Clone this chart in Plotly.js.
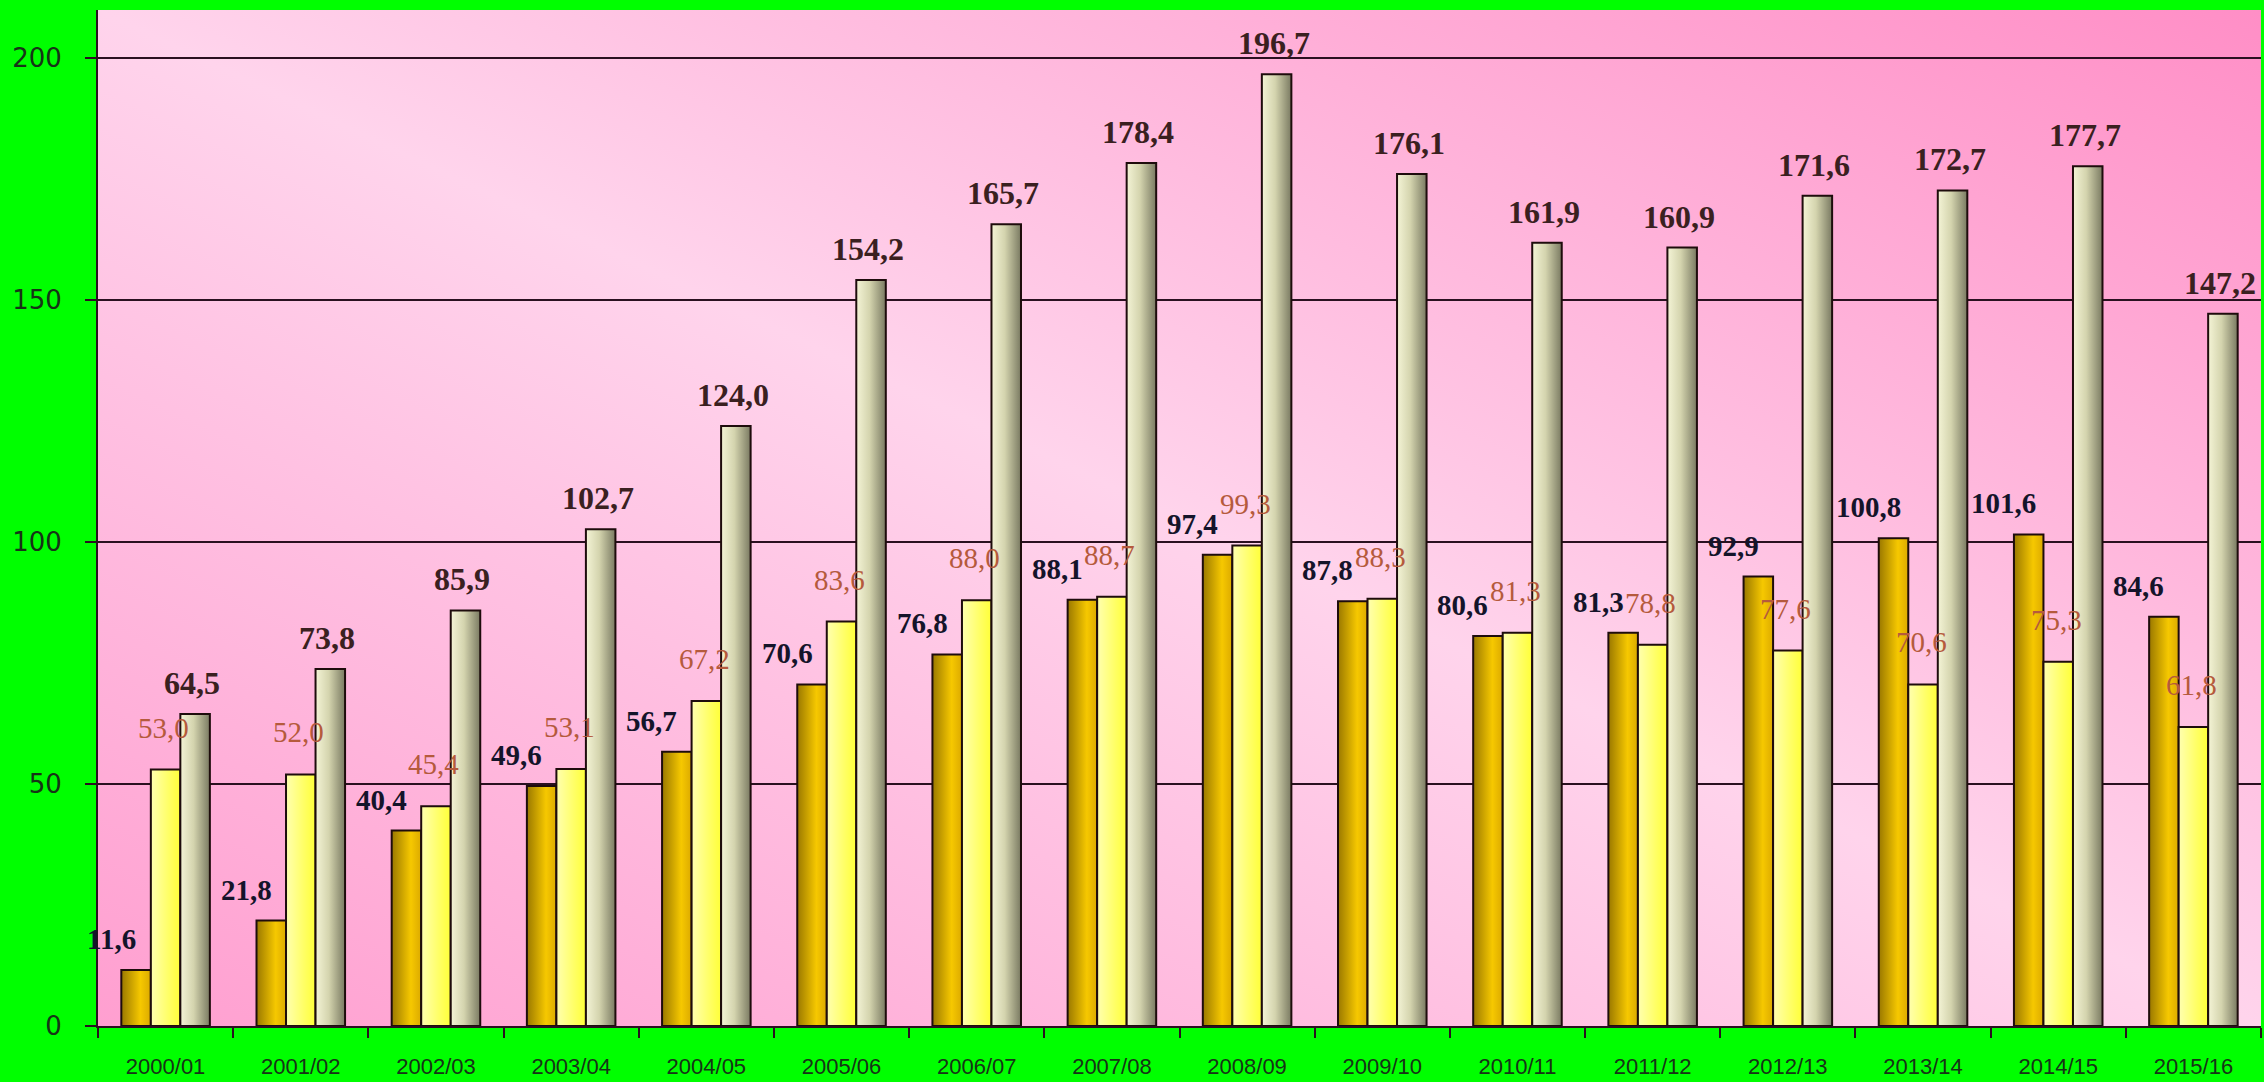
<!DOCTYPE html>
<html>
<head>
<meta charset="utf-8">
<script src="https://cdn.plot.ly/plotly-3.0.1.min.js"></script>
<style>
  html, body { margin: 0; padding: 0; background: #00ff00; }
  #chart { width: 2264px; height: 1082px; }
</style>
</head>
<body>
<div id="chart"></div>
<script>
// ---- data ----
const categories = ["2000/01","2001/02","2002/03","2003/04","2004/05","2005/06","2006/07","2007/08",
                    "2008/09","2009/10","2010/11","2011/12","2012/13","2013/14","2014/15","2015/16"];
const series1 = [11.6, 21.8, 40.4, 49.6, 56.7, 70.6, 76.8, 88.1, 97.4, 87.8, 80.6, 81.3, 92.9, 100.8, 101.6, 84.6];
const series2 = [53.0, 52.0, 45.4, 53.1, 67.2, 83.6, 88.0, 88.7, 99.3, 88.3, 81.3, 78.8, 77.6, 70.6, 75.3, 61.8];
const series3 = [64.5, 73.8, 85.9, 102.7, 124.0, 154.2, 165.7, 178.4, 196.7, 176.1, 161.9, 160.9, 171.6, 172.7, 177.7, 147.2];
const yTicks = [0, 50, 100, 150, 200];

// ---- layout constants ----
const W = 2264, H = 1082;
const M = {l: 98, r: 3, t: 10, b: 56};
const bargap = 0.345;
const catW = (W - M.l - M.r) / categories.length;
const barW = catW * (1 - bargap) / 3;

const fmt = v => v.toFixed(1).replace('.', ',');
const outline = {color: '#1e0c0c', width: 2};

const traces = [series1, series2, series3].map((s, i) => ({
  type: 'bar', x: categories, y: s,
  marker: {color: ['#d4a400', '#ffff70', '#c4c4a0'][i], line: outline},
  hoverinfo: 'skip', showlegend: false
}));

const labelStyle = [
  {dx: -barW - 25, dy: 31, bold: true,  font: {family: 'Liberation Serif', size: 29, color: '#14142a'}},
  {dx: -2,         dy: 42, bold: false, font: {family: 'Liberation Serif', size: 29, color: '#b55a3c'}},
  {dx: barW - 3,   dy: 31, bold: true,  font: {family: 'Liberation Serif', size: 32, color: '#3a2020'}}
];

const annotations = [];
[series1, series2, series3].forEach((s, i) => {
  const st = labelStyle[i];
  s.forEach((v, j) => {
    annotations.push({
      x: categories[j], y: v, xref: 'x', yref: 'y',
      text: st.bold ? '<b>' + fmt(v) + '</b>' : fmt(v),
      showarrow: false, xanchor: 'center', yanchor: 'middle',
      xshift: st.dx, yshift: st.dy, font: st.font
    });
  });
});

const axisColor = '#2a1020';
const layout = {
  width: W, height: H,
  margin: M,
  paper_bgcolor: '#00ff00',
  plot_bgcolor: '#ffc8e6',
  barmode: 'group', bargap: bargap, bargroupgap: 0,
  xaxis: {
    type: 'category', range: [-0.5, categories.length - 0.5], autorange: false,
    tickson: 'boundaries',
    ticks: 'outside', ticklen: 10, tickwidth: 2, tickcolor: axisColor,
    showline: true, linecolor: axisColor, linewidth: 2,
    showgrid: false, zeroline: false,
    ticklabelstandoff: 20,
    tickfont: {family: 'Liberation Sans', size: 22, color: '#173317'}
  },
  yaxis: {
    range: [0, 210], autorange: false, tickvals: yTicks, ticktext: yTicks.map(String),
    ticks: 'outside', ticklen: 11, tickwidth: 2, tickcolor: axisColor,
    showline: true, linecolor: axisColor, linewidth: 2,
    showgrid: true, gridcolor: axisColor, gridwidth: 2,
    zeroline: false,
    ticklabelstandoff: 18,
    tickfont: {family: 'DejaVu Sans', size: 26, color: '#173317'}
  },
  annotations: annotations
};

Plotly.newPlot('chart', traces, layout, {displayModeBar: false, staticPlot: true}).then(gd => {
  const svg = gd.querySelector('svg.main-svg');
  const ns = 'http://www.w3.org/2000/svg';
  let defs = svg.querySelector('defs');
  if (!defs) { defs = document.createElementNS(ns, 'defs'); svg.insertBefore(defs, svg.firstChild); }
  function grad(id, stops, x1, y1, x2, y2) {
    const g = document.createElementNS(ns, 'linearGradient');
    g.setAttribute('id', id);
    g.setAttribute('x1', x1); g.setAttribute('y1', y1);
    g.setAttribute('x2', x2); g.setAttribute('y2', y2);
    stops.forEach(([o, c]) => {
      const s = document.createElementNS(ns, 'stop');
      s.setAttribute('offset', o); s.setAttribute('stop-color', c);
      g.appendChild(s);
    });
    defs.appendChild(g);
  }
  grad('gBg', [[0, '#ff9fd0'], [0.5, '#ffd4ec'], [1, '#ff8ec6']], 0, 1, 1, 0);
  grad('g0', [[0, '#9a7800'], [0.65, '#f6c800'], [1, '#dcaa00']], 0, 0, 1, 0);
  grad('g1', [[0, '#ffffb0'], [0.6, '#ffff66'], [1, '#ffff38']], 0, 0, 1, 0);
  grad('g2', [[0, '#f4f4d6'], [0.45, '#d4d4ae'], [1, '#7a7a62']], 0, 0, 1, 0);

  const bg = svg.querySelector('.bglayer rect.bg');
  if (bg) bg.style.fill = 'url(#gBg)';
  svg.querySelectorAll('.barlayer .trace').forEach((tr, i) => {
    tr.querySelectorAll('path').forEach(p => { p.style.fill = 'url(#g' + i + ')'; });
  });
});
</script>
</body>
</html>
